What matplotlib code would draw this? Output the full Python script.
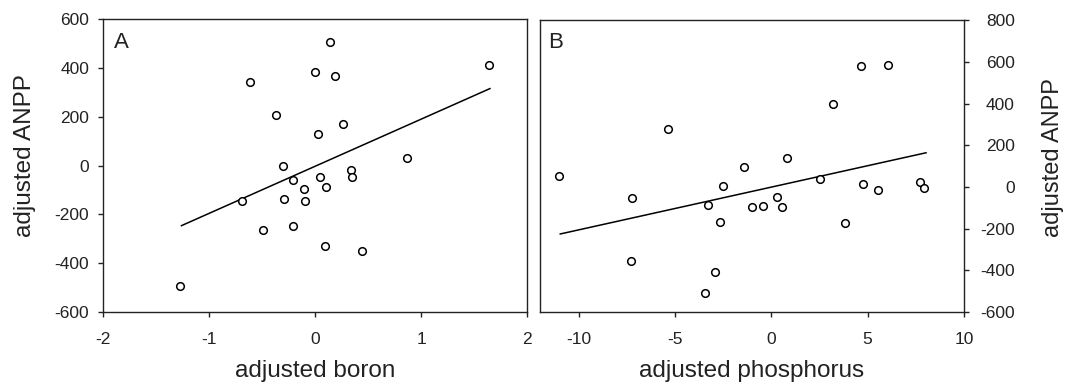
import matplotlib
matplotlib.use("Agg")
import matplotlib.pyplot as plt
import numpy as np

plt.rcParams['font.family'] = ['Liberation Sans', 'DejaVu Sans']
plt.rcParams['axes.unicode_minus'] = False

# panel A: adjusted boron vs adjusted ANPP
boron_x = [0.14, 1.64, 0.00, 0.19, -0.61, -0.37, 0.26, 0.03, 0.87, -0.30, 0.34, 0.05,
           0.35, -0.21, 0.10, -0.10, -0.69, -0.29, -0.09, -0.49, -0.21, 0.09, 0.44, -1.27]
boron_y = [508, 413, 385, 369, 342, 208, 172, 128, 33, 0, -16, -45,
           -45, -60, -89, -96, -145, -137, -146, -264, -249, -331, -351, -495]
boron_fit_x = [-1.26, 1.65]
boron_fit_y = [-246, 316]

# panel B: adjusted phosphorus vs adjusted ANPP
phos_x = [-10.99, -7.23, -5.36, -7.28, -2.53, -3.29, -2.66, -2.94, -3.46, -1.40, -0.99, -0.45,
          0.31, 0.54, 0.80, 2.54, 3.18, 3.84, 4.65, 4.78, 5.54, 6.07, 7.70, 7.94]
phos_y = [54, -53, 278, -356, 5, -88, -168, -407, -506, 96, -96, -89,
          -48, -96, 140, 40, 399, -171, 580, 16, -16, 586, 22, -6]
phos_fit_x = [-10.95, 8.03]
phos_fit_y = [-225, 164]

ink = '#222222'
fig = plt.figure(figsize=(10.66, 3.85), dpi=100)
axA = fig.add_axes([0.0966, 0.1896, 0.3978, 0.7602])
axB = fig.add_axes([0.5066, 0.1890, 0.3977, 0.7590])

for ax in (axA, axB):
    for s in ax.spines.values():
        s.set_color(ink)
        s.set_linewidth(1.0)
    ax.tick_params(direction='out', length=3.5, width=1.0, color=ink,
                   labelsize=12.5, labelcolor=ink)
    ax.tick_params(axis='x', pad=11)

# A
axA.scatter(boron_x, boron_y, s=30, facecolors='white', edgecolors='black',
            linewidths=1.1, zorder=3)
axA.plot(boron_fit_x, boron_fit_y, color='black', lw=1.1)
axA.set_xlim(-2, 2)
axA.set_ylim(-600, 600)
axA.set_xticks([-2, -1, 0, 1, 2])
axA.set_yticks(np.arange(-600, 601, 200))
axA.tick_params(axis='y', pad=6.5)
axA.set_xlabel('adjusted boron', fontsize=17.5, color=ink)
axA.xaxis.set_label_coords(0.5, -0.163)
axA.set_ylabel('adjusted ANPP', fontsize=17.5, color=ink)
axA.yaxis.set_label_coords(-0.158, 0.533)
axA.text(0.027, 0.955, 'A', transform=axA.transAxes, ha='left', va='top',
         fontsize=16, color=ink)

# B
axB.scatter(phos_x, phos_y, s=30, facecolors='white', edgecolors='black',
            linewidths=1.1, zorder=3)
axB.plot(phos_fit_x, phos_fit_y, color='black', lw=1.1)
axB.set_xlim(-12, 10)
axB.set_ylim(-600, 800)
axB.set_xticks([-10, -5, 0, 5, 10])
axB.set_yticks(np.arange(-600, 801, 200))
axB.yaxis.tick_right()
axB.yaxis.set_label_position('right')
# right-hand tick labels are right aligned in the original
axB.tick_params(axis='y', pad=33)
for lab in axB.get_yticklabels():
    lab.set_horizontalalignment('right')
axB.set_xlabel('adjusted phosphorus', fontsize=17.5, color=ink)
axB.xaxis.set_label_coords(0.5, -0.163)
axB.set_ylabel('adjusted ANPP', fontsize=17, color=ink, rotation=90)
axB.yaxis.set_label_coords(1.184, 0.531)
axB.text(0.018, 0.96, 'B', transform=axB.transAxes, ha='left', va='top',
         fontsize=16, color=ink)

fig.savefig('out.png', dpi=100)
